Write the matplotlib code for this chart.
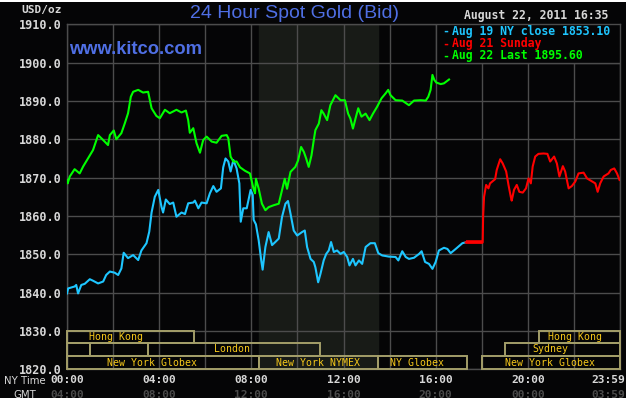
import matplotlib
matplotlib.use("Agg")
import matplotlib.pyplot as plt
from matplotlib.patches import Rectangle
import matplotlib.transforms as mtransforms

# ---------------- data: (hour NY time, USD/oz) ----------------
aug19 = [(0.0, 1839.8), (0.05, 1841.1), (0.33, 1841.6), (0.4, 1842.0), (0.48, 1839.8),
         (0.62, 1842.0), (0.77, 1842.3), (0.99, 1843.5), (1.13, 1843.1), (1.35, 1842.4),
         (1.57, 1842.9), (1.7, 1844.6), (1.86, 1845.5), (2.07, 1845.2), (2.22, 1844.6),
         (2.36, 1846.3), (2.46, 1850.4), (2.65, 1849.0), (2.87, 1849.8), (3.09, 1848.5),
         (3.23, 1851.0), (3.45, 1852.9), (3.57, 1855.9), (3.67, 1860.9), (3.81, 1865.0),
         (3.96, 1866.8), (4.1, 1862.4), (4.17, 1860.9), (4.29, 1864.3), (4.46, 1863.1),
         (4.61, 1863.5), (4.75, 1859.8), (4.97, 1860.9), (5.12, 1860.5), (5.26, 1863.3),
         (5.48, 1863.5), (5.55, 1864.0), (5.7, 1862.0), (5.84, 1863.5), (6.06, 1863.3),
         (6.2, 1865.9), (6.35, 1867.8), (6.49, 1866.3), (6.68, 1867.2), (6.78, 1872.7),
         (6.88, 1875.0), (7.0, 1874.2), (7.1, 1871.6), (7.22, 1874.6), (7.36, 1872.4),
         (7.48, 1868.5), (7.54, 1858.5), (7.65, 1862.0), (7.8, 1862.0), (7.97, 1866.8),
         (8.06, 1865.5), (8.1, 1859.0), (8.2, 1857.8), (8.32, 1853.6), (8.43, 1848.4),
         (8.49, 1846.0), (8.61, 1851.9), (8.75, 1855.8), (8.9, 1852.4), (9.04, 1853.2),
         (9.19, 1854.1), (9.33, 1859.7), (9.48, 1863.2), (9.59, 1863.9), (9.7, 1860.6),
         (9.84, 1856.2), (9.99, 1854.9), (10.2, 1855.8), (10.32, 1856.2), (10.42, 1851.9),
         (10.57, 1848.8), (10.71, 1848.0), (10.78, 1846.6), (10.9, 1842.7), (11.0, 1844.9),
         (11.14, 1848.4), (11.25, 1850.1), (11.36, 1851.0), (11.46, 1853.2), (11.58, 1850.6),
         (11.72, 1851.0), (11.87, 1850.1), (12.01, 1850.6), (12.16, 1849.3), (12.26, 1847.1),
         (12.41, 1848.8), (12.52, 1847.1), (12.67, 1848.4), (12.81, 1847.5), (12.96, 1851.9),
         (13.17, 1852.9), (13.36, 1852.9), (13.51, 1850.3), (13.68, 1849.7), (13.97, 1849.4),
         (14.26, 1849.3), (14.38, 1848.4), (14.55, 1850.8), (14.7, 1849.3), (14.84, 1848.8),
         (15.06, 1849.1), (15.28, 1850.1), (15.39, 1850.8), (15.54, 1848.0), (15.71, 1847.5),
         (15.86, 1846.2), (16.0, 1848.0), (16.14, 1851.0), (16.36, 1851.7), (16.51, 1851.4),
         (16.65, 1850.3), (16.87, 1851.4), (17.16, 1852.9), (17.3, 1853.1)]

aug21 = [(17.3, 1853.1), (18.04, 1853.1), (18.06, 1860.0), (18.1, 1865.0), (18.19, 1868.1),
         (18.29, 1867.2), (18.36, 1868.5), (18.58, 1869.6), (18.65, 1872.0), (18.8, 1874.8),
         (18.91, 1873.7), (19.06, 1871.6), (19.16, 1868.1), (19.26, 1865.0), (19.3, 1864.0),
         (19.4, 1866.8), (19.52, 1868.1), (19.63, 1866.3), (19.78, 1866.1), (19.92, 1867.2),
         (20.03, 1869.8), (20.13, 1868.5), (20.21, 1872.9), (20.32, 1875.5), (20.46, 1876.2),
         (20.68, 1876.3), (20.85, 1876.2), (20.97, 1874.2), (21.14, 1875.5), (21.26, 1873.7),
         (21.37, 1870.3), (21.52, 1873.0), (21.62, 1871.6), (21.77, 1867.2), (21.91, 1867.8),
         (22.06, 1869.0), (22.2, 1871.1), (22.42, 1871.3), (22.57, 1869.8), (22.79, 1869.0),
         (22.93, 1868.5), (23.03, 1866.3), (23.14, 1868.5), (23.29, 1870.3), (23.5, 1871.1),
         (23.6, 1872.0), (23.75, 1872.4), (23.87, 1871.1), (23.98, 1869.4)]

aug22 = [(0.0, 1869.4), (0.03, 1868.5), (0.12, 1870.3), (0.33, 1872.2), (0.55, 1871.1),
         (0.7, 1872.9), (0.91, 1875.0), (1.13, 1877.2), (1.35, 1881.1), (1.57, 1879.8),
         (1.78, 1878.5), (1.86, 1881.1), (2.03, 1882.3), (2.14, 1880.0), (2.36, 1881.6),
         (2.51, 1884.2), (2.65, 1886.8), (2.77, 1891.1), (2.87, 1892.4), (3.09, 1892.9),
         (3.3, 1892.2), (3.52, 1892.4), (3.67, 1888.1), (3.88, 1886.1), (4.03, 1885.5),
         (4.25, 1887.7), (4.46, 1886.8), (4.75, 1887.7), (4.97, 1887.0), (5.16, 1887.5),
         (5.26, 1885.0), (5.33, 1881.7), (5.48, 1882.9), (5.62, 1879.0), (5.77, 1876.5),
         (5.91, 1879.8), (6.06, 1880.7), (6.28, 1879.4), (6.49, 1879.1), (6.71, 1880.9),
         (6.93, 1881.1), (7.0, 1880.3), (7.1, 1875.5), (7.22, 1874.2), (7.36, 1874.2),
         (7.51, 1872.7), (7.72, 1871.8), (7.94, 1871.1), (8.09, 1867.2), (8.16, 1865.9),
         (8.2, 1869.7), (8.32, 1867.1), (8.46, 1863.2), (8.61, 1861.5), (8.75, 1862.3),
         (8.97, 1862.8), (9.19, 1863.2), (9.33, 1866.7), (9.45, 1869.7), (9.55, 1867.1),
         (9.7, 1871.5), (9.91, 1872.8), (10.03, 1874.5), (10.16, 1878.0), (10.28, 1876.7),
         (10.38, 1875.0), (10.49, 1872.8), (10.61, 1875.8), (10.71, 1879.8), (10.78, 1882.4),
         (10.93, 1884.1), (11.04, 1887.6), (11.14, 1886.7), (11.29, 1885.0), (11.43, 1888.9),
         (11.65, 1891.5), (11.87, 1890.2), (12.06, 1890.2), (12.2, 1886.7), (12.3, 1885.4),
         (12.41, 1882.8), (12.52, 1885.4), (12.64, 1888.1), (12.78, 1885.9), (12.96, 1886.7),
         (13.13, 1885.0), (13.28, 1886.7), (13.46, 1888.5), (13.65, 1890.7), (13.83, 1892.0),
         (13.94, 1892.9), (14.04, 1891.5), (14.26, 1890.2), (14.55, 1890.1), (14.84, 1888.9),
         (15.06, 1890.1), (15.35, 1890.2), (15.57, 1890.1), (15.68, 1891.1), (15.78, 1892.9),
         (15.86, 1896.8), (15.94, 1895.5), (16.03, 1894.8), (16.22, 1894.4), (16.36, 1894.6),
         (16.58, 1895.6)]

legend_labels = ["Aug 19 NY close 1853.10", "Aug 21 Sunday", "Aug 22 Last 1895.60"]
y_ticks = [1820, 1830, 1840, 1850, 1860, 1870, 1880, 1890, 1900, 1910]
x_ticks = [0, 4, 8, 12, 16, 20, 23.983]
ny_labels = ["00:00", "04:00", "08:00", "12:00", "16:00", "20:00", "23:59"]
gmt_labels = ["04:00", "08:00", "12:00", "16:00", "20:00", "00:00", "03:59"]

# trading sessions
session_names = ["Hong Kong", "", "", "London", "Sydney", "Hong Kong",
                 "New York Globex", "New York NYMEX", "NY Globex", "New York Globex"]
session_rows = [0, 1, 1, 1, 1, 0, 2, 2, 2, 2]
session_start = [0.0, 0.0, 1.0, 3.5, 19.0, 20.5, 0.0, 8.33, 13.5, 18.0]
session_end = [5.5, 1.0, 3.5, 11.0, 24.0, 24.0, 8.33, 13.5, 17.35, 24.0]
session_label_at = [2.13, 0, 0, 7.16, 20.96, 22.05, 3.67, 10.9, 15.2, 20.97]

# ---------------- figure ----------------
BG = "#050506"
GRID = "#4c4c4c"
TXT = "#d8d8d8"
MONO = "DejaVu Sans Mono"

fig = plt.figure(figsize=(6.28, 3.98), dpi=100, facecolor=BG)
ax = fig.add_axes([67 / 628, (398 - 369.3) / 398, 553 / 628, 345 / 398])
ax.set_facecolor(BG)

ax.set_xlim(0, 24)
ax.set_ylim(1820, 1910)
ax.axvspan(8.33, 13.5, color="#181b17", zorder=0)

ax.set_xticks([0, 2, 4, 6, 8, 10, 12, 14, 16, 18, 20, 22, 24])
ax.set_xticklabels([])
ax.set_yticks(y_ticks)
ax.set_yticklabels(["%.1f" % v for v in y_ticks], family=MONO, fontweight="bold",
                   fontsize=8.5, color=TXT)
ax.tick_params(length=0, pad=4)
ax.grid(True, color=GRID, lw=1.0, zorder=1)
for s in ax.spines.values():
    s.set_color(GRID)
    s.set_linewidth(1.0)

series = [(aug19, "#1ec6ff"), (aug21, "#ff0000"), (aug22, "#00ff00")]
for pts, col in series:
    xs, ys = zip(*pts)
    ax.plot(xs, ys, color=col, lw=1.5, zorder=4)
# flat red segment over the weekend gap is drawn thicker
xs, ys = zip(*aug21[:2])
ax.plot(xs, ys, color="#ff0000", lw=2.6, zorder=5, solid_capstyle="butt")

# session boxes
trans = mtransforms.blended_transform_factory(ax.transData, ax.transAxes)
row_top = [0.112, 0.077, 0.039]
row_bot = [0.077, 0.039, 0.0]
for name, r, h0, h1, hl in zip(session_names, session_rows, session_start,
                               session_end, session_label_at):
    ax.add_patch(Rectangle((h0, row_bot[r]), h1 - h0, row_top[r] - row_bot[r],
                           transform=trans, fill=False, ec="#a39e69", lw=1.4,
                           zorder=6, clip_on=False))
    if name:
        ax.text(hl, (row_top[r] + row_bot[r]) / 2, name, transform=trans,
                ha="center", va="center", family=MONO, fontsize=7.1,
                color="#f6c81a", zorder=7)

# x labels (NY time and GMT)
for h, a, b in zip(x_ticks, ny_labels, gmt_labels):
    xc = min(67 + h / 24 * 553, 608)
    fig.text(xc / 628, 1 - 380 / 398, a, ha="center", va="center",
             family=MONO, fontweight="bold", fontsize=8.1, color=TXT)
    fig.text(xc / 628, 1 - 395.5 / 398, b, ha="center", va="center",
             family=MONO, fontweight="bold", fontsize=8.1, color="#4a4a4a")
fig.text(4 / 628, 1 - 381 / 398, "NY Time", ha="left", va="center",
         family="DejaVu Sans", fontsize=7.3, color=TXT)
fig.text(13 / 628, 1 - 395 / 398, "GMT", ha="left", va="center",
         family="DejaVu Sans", fontsize=7.3, color=TXT)

# header texts
fig.text(42 / 628, 1 - 10.5 / 398, "USD/oz", ha="center", va="center", family=MONO,
         fontweight="bold", fontsize=8.0, color=TXT)
fig.text(295 / 628, 1 - 13 / 398, "24 Hour Spot Gold (Bid)", ha="center", va="center",
         family="Liberation Sans", fontsize=14, color="#4f6fe4")
fig.text(69 / 628, 1 - 50 / 398, "www.kitco.com", ha="left", va="center",
         family="Liberation Sans", fontweight="bold", fontsize=13.2, color="#4f6fe4")
fig.text(536 / 628, 1 - 16 / 398, "August 22, 2011 16:35", ha="center", va="center",
         family=MONO, fontweight="bold", fontsize=8.3, color=TXT)

# legend box in the top right corner
leg_x0 = (436 - 67) / 553 * 24
ax.add_patch(Rectangle((leg_x0, 1900), 24 - leg_x0, 10, fc=BG, ec=GRID, lw=1.0, zorder=8))
legend_colors = ["#1ec6ff", "#ff0000", "#00ff00"]
for i, (lab, col) in enumerate(zip(legend_labels, legend_colors)):
    y = 1 - (31.5 + 12.2 * i) / 398
    fig.text(446 / 628, y, "-", ha="center", va="center", family=MONO,
             fontweight="bold", fontsize=8.3, color=col, zorder=9)
    fig.text(452 / 628, y, lab, ha="left", va="center", family=MONO,
             fontweight="bold", fontsize=8.3, color=col, zorder=9)

# white frame strips at top and right
fig.patches.append(Rectangle((0, 1 - 1.5 / 398), 1, 1.5 / 398, transform=fig.transFigure,
                             fc="white", ec="none"))
fig.patches.append(Rectangle((1 - 2.5 / 628, 0), 2.5 / 628, 1, transform=fig.transFigure,
                             fc="white", ec="none"))

fig.savefig("out.png", dpi=100, facecolor=BG)
